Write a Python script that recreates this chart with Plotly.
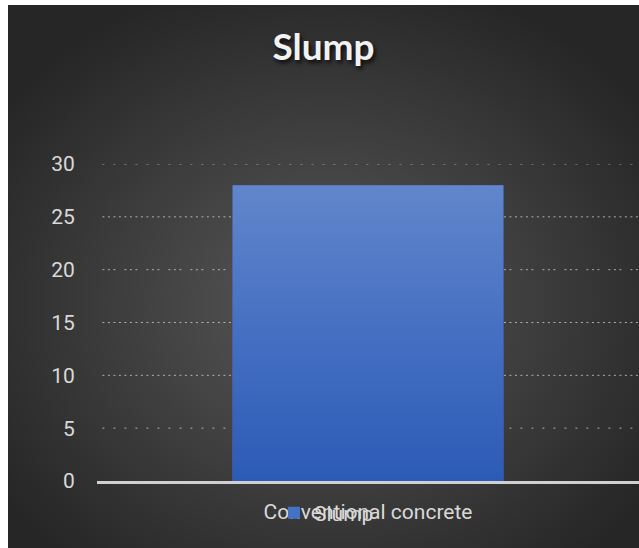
import base64
import plotly.graph_objects as go

# ---- data ----
categories = ["Conventional concrete"]
slump = [28]
series_name = "Slump"
chart_title = "Slump"
y_ticks = [0, 5, 10, 15, 20, 25, 30]
grid_values = [5, 10, 15, 20, 25, 30]
grid_dashes = ["2px,9px", "2px,3.5px", "2px,3.5px",
               "2px,3.5px,2px,3.5px,2px,9px", "2px,3.5px", "2px,9px"]

# ---- geometry / style ----
W, H = 639, 548
L, R, T, B = 97, 0, 164, 67
pw, ph = W - L - R, H - T - B
bar_width = 0.5
BG_X0, BG_Y0 = 8, 5  # dark chart-area inset within the white page


def svg_uri(svg):
    return "data:image/svg+xml;base64," + base64.b64encode(svg.encode()).decode()


bw, bh = W - BG_X0, H - BG_Y0
bg_svg = (
    f'<svg xmlns="http://www.w3.org/2000/svg" width="{bw}" height="{bh}" '
    f'viewBox="0 0 {bw} {bh}" preserveAspectRatio="none"><defs>'
    '<radialGradient id="g" cx="50%" cy="55%" r="62%">'
    '<stop offset="0" stop-color="#585858"/>'
    '<stop offset="1" stop-color="#262626"/></radialGradient></defs>'
    '<rect width="100%" height="100%" fill="url(#g)"/></svg>'
)
bar_svg = (
    '<svg xmlns="http://www.w3.org/2000/svg" width="100" height="100" '
    'viewBox="0 0 100 100" preserveAspectRatio="none"><defs>'
    '<linearGradient id="b" x1="0" y1="0" x2="0" y2="1">'
    '<stop offset="0" stop-color="#6186cb"/>'
    '<stop offset="0.5" stop-color="#456fc2"/>'
    '<stop offset="1" stop-color="#2c5bb6"/></linearGradient></defs>'
    '<rect width="100" height="100" fill="url(#b)"/></svg>'
)

fig = go.Figure()
fig.add_trace(go.Bar(
    x=categories, y=slump, name=series_name, width=bar_width,
    marker=dict(color="#4472C4", line=dict(width=0)),
    showlegend=True, hoverinfo="skip",
))

images = [dict(
    source=svg_uri(bg_svg), xref="paper", yref="paper",
    x=(BG_X0 - L) / pw, y=1 + (T - BG_Y0) / ph, sizex=bw / pw, sizey=bh / ph,
    sizing="stretch", layer="below", xanchor="left", yanchor="top",
)]
for i, v in enumerate(slump):
    images.append(dict(
        source=svg_uri(bar_svg), xref="x", yref="y",
        x=i - bar_width / 2, y=v, sizex=bar_width, sizey=v,
        sizing="stretch", layer="above", xanchor="left", yanchor="top",
    ))

shapes = []
for gv, dash in zip(grid_values, grid_dashes):
    shapes.append(dict(
        type="line", xref="paper", yref="y", x0=0.01, x1=1, y0=gv, y1=gv,
        line=dict(color="rgba(215,215,215,0.75)", width=1, dash=dash),
        layer="below",
    ))

fig.update_layout(
    width=W, height=H,
    margin=dict(l=L, r=R, t=T, b=B, pad=0),
    paper_bgcolor="#ffffff",
    plot_bgcolor="rgba(0,0,0,0)",
    images=images,
    shapes=shapes,
    title=dict(
        text=chart_title, x=(BG_X0 + W) / 2 / W, xref="container",
        xanchor="center",
        y=1 - 47 / H, yref="container", yanchor="middle",
        font=dict(family="Lato", size=37, weight="bold", color="#f2f2f2",
                  shadow="2px 3px 4px rgba(0,0,0,0.8)"),
    ),
    font=dict(family="Roboto", color="#d9d9d9"),
    xaxis=dict(
        type="category", showgrid=False, zeroline=False,
        showline=True, linecolor="#d0d0d0", linewidth=2.5,
        ticks="outside", ticklen=10, tickcolor="rgba(0,0,0,0)",
        tickfont=dict(size=21, color="#d9d9d9", family="Roboto"),
        range=[-0.5, 0.5], fixedrange=True,
    ),
    yaxis=dict(
        range=[0, 30], tickvals=y_ticks, showgrid=False, zeroline=False,
        showline=False, ticks="outside", ticklen=17,
        tickcolor="rgba(0,0,0,0)",
        tickfont=dict(size=21, color="#d9d9d9", family="Roboto"),
        fixedrange=True,
    ),
    legend=dict(
        orientation="h", x=(274 - L) / pw, xanchor="left",
        y=1 - (513 - T) / ph, yanchor="middle", bgcolor="rgba(0,0,0,0)",
        font=dict(size=21, color="#d9d9d9", family="Roboto"),
    ),
    bargap=0.5,
)

fig.write_html("out.html", config={"displayModeBar": False},
               post_script="document.body.style.margin='0';")
